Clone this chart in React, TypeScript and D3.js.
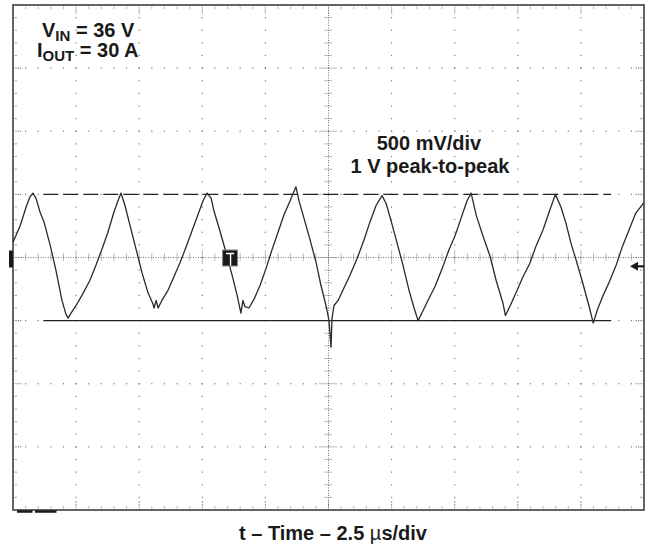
import React, { useEffect, useRef } from "react";
import * as d3 from "d3";

// screen: 10 divisions of 2.5 us, 8 divisions of 500 mV (centre = 0 V)
const timeDomain: [number, number] = [0, 25];
const voltDomain: [number, number] = [-2, 2];
const minorTime = d3.range(0, 25.001, 0.5);
const minorVolt = d3.range(-2, 2.001, 0.1);
const majorTime = d3.range(0, 25.001, 2.5);
const majorVolt = d3.range(-2, 2.001, 0.5);

// cursor levels (1 V peak-to-peak) and where they start/end in time
const cursorHigh = 0.5;
const cursorLow = -0.5;
const cursorSpan: [number, number] = [1.2, 23.7];

// markers
const channelGround = 0;
const triggerTime = 8.6;
const triggerLevel = -0.07;

// trace: [time us, volts]
const trace: [number, number][] = [
  [0, 0.12], [0.28, 0.25], [0.52, 0.4], [0.67, 0.48], [0.79, 0.51],
  [0.91, 0.47], [1.07, 0.36], [1.23, 0.28], [1.47, 0.1], [1.7, -0.1], [1.94, -0.34], [2.1, -0.45], [2.18, -0.48],
  [2.3, -0.44], [2.5, -0.38], [2.73, -0.3], [3.05, -0.18], [3.29, -0.06], [3.53, 0.07], [3.76, 0.2], [4.0, 0.36], [4.16, 0.45], [4.28, 0.51],
  [4.44, 0.41], [4.64, 0.25], [4.87, 0.07], [5.11, -0.12], [5.35, -0.28], [5.55, -0.37], [5.59, -0.4], [5.67, -0.34], [5.75, -0.4],
  [5.9, -0.34], [6.14, -0.26], [6.38, -0.15], [6.62, -0.04], [6.85, 0.08], [7.09, 0.21], [7.33, 0.34], [7.53, 0.45], [7.69, 0.51],
  [7.85, 0.47], [7.96, 0.37], [8.2, 0.21], [8.44, 0.04], [8.68, -0.14], [8.88, -0.3], [9.03, -0.44], [9.11, -0.34], [9.19, -0.39], [9.35, -0.4],
  [9.55, -0.33], [9.79, -0.22], [10.02, -0.09], [10.26, 0.06], [10.5, 0.2], [10.74, 0.34], [10.98, 0.45], [11.21, 0.56],
  [11.33, 0.45], [11.53, 0.31], [11.77, 0.14], [12.01, -0.04], [12.2, -0.22], [12.4, -0.38], [12.52, -0.5], [12.6, -0.71], [12.64, -0.48],
  [12.72, -0.38], [12.88, -0.34], [13.07, -0.26], [13.35, -0.14], [13.63, -0.01], [13.91, 0.14], [14.14, 0.28], [14.38, 0.41], [14.62, 0.49],
  [14.78, 0.43], [14.98, 0.29], [15.21, 0.12], [15.45, -0.06], [15.69, -0.26], [15.89, -0.4], [16.05, -0.5],
  [16.2, -0.44], [16.44, -0.34], [16.72, -0.23], [17.0, -0.09], [17.27, 0.06], [17.51, 0.17], [17.75, 0.31], [17.99, 0.45], [18.15, 0.51],
  [18.23, 0.44], [18.36, 0.33], [18.62, 0.17], [18.9, 0.01], [19.14, -0.18], [19.41, -0.36], [19.51, -0.46],
  [19.68, -0.39], [19.93, -0.28], [20.21, -0.15], [20.47, -0.05], [20.72, 0.09], [21.0, 0.22], [21.26, 0.37], [21.49, 0.5],
  [21.71, 0.4], [21.91, 0.27], [22.11, 0.11], [22.31, -0.02], [22.57, -0.2], [22.83, -0.39], [22.99, -0.52],
  [23.16, -0.41], [23.36, -0.31], [23.61, -0.2], [23.88, -0.07], [24.15, 0.09], [24.41, 0.22], [24.67, 0.35], [24.98, 0.43],
];

const WIDTH = 649;
const HEIGHT = 548;
const FONT = "'Liberation Sans', Arial, Helvetica, sans-serif";
const GRID = "#777";
const INK = "#1a1a1a";

const App: React.FC = () => {
  const svgRef = useRef<SVGSVGElement | null>(null);

  useEffect(() => {
    if (!svgRef.current) return;
    const svg = d3.select(svgRef.current);
    svg.selectAll("*").remove();

    const x = d3.scaleLinear().domain(timeDomain).range([13, 644]);
    const y = d3.scaleLinear().domain(voltDomain).range([510, 5]);
    const [x0, x1] = x.range();
    const [y1, y0] = y.range();
    const xc = x(12.5);
    const yc = y(0);

    const isMajorT = (t: number) => majorTime.some((m) => Math.abs(m - t) < 1e-6);
    const isMajorV = (v: number) => majorVolt.some((m) => Math.abs(m - v) < 1e-6);

    const g = svg.append("g");

    // dotted major grid
    const innerT = majorTime.slice(1, -1).filter((t) => t !== 12.5);
    const innerV = majorVolt.slice(1, -1).filter((v) => Math.abs(v) > 1e-6);
    innerT.forEach((t) => {
      g.selectAll(null)
        .data(minorVolt.slice(1, -1))
        .enter()
        .append("rect")
        .attr("x", x(t) - 0.6)
        .attr("y", (v) => y(v) - 0.6)
        .attr("width", 1.2)
        .attr("height", 1.2)
        .attr("fill", GRID);
    });
    innerV.forEach((v) => {
      g.selectAll(null)
        .data(minorTime.slice(1, -1))
        .enter()
        .append("rect")
        .attr("x", (t) => x(t) - 0.6)
        .attr("y", y(v) - 0.6)
        .attr("width", 1.2)
        .attr("height", 1.2)
        .attr("fill", GRID);
    });

    // centre axes
    g.append("line")
      .attr("x1", x0).attr("x2", x1).attr("y1", yc).attr("y2", yc)
      .attr("stroke", GRID).attr("stroke-width", 1).attr("stroke-dasharray", "1,1.5");
    g.append("line")
      .attr("x1", xc).attr("x2", xc).attr("y1", y0).attr("y2", y1)
      .attr("stroke", GRID).attr("stroke-width", 1).attr("stroke-dasharray", "1,1.5");

    g.selectAll(null)
      .data(minorTime.slice(1, -1))
      .enter()
      .append("line")
      .attr("x1", (t) => x(t)).attr("x2", (t) => x(t))
      .attr("y1", (t) => yc - (isMajorT(t) ? 7 : 4))
      .attr("y2", (t) => yc + (isMajorT(t) ? 7 : 4))
      .attr("stroke", GRID).attr("stroke-width", 1).attr("stroke-dasharray", "1,1");
    g.selectAll(null)
      .data(minorVolt.slice(1, -1))
      .enter()
      .append("line")
      .attr("y1", (v) => y(v)).attr("y2", (v) => y(v))
      .attr("x1", (v) => xc - (isMajorV(v) ? 9 : 4))
      .attr("x2", (v) => xc + (isMajorV(v) ? 9 : 4))
      .attr("stroke", GRID).attr("stroke-width", 1).attr("stroke-dasharray", "1,1");

    // border ticks
    [y0, y1].forEach((yy, k) => {
      const dir = k === 0 ? 1 : -1;
      g.selectAll(null)
        .data(minorTime.slice(1, -1))
        .enter()
        .append("line")
        .attr("x1", (t) => x(t)).attr("x2", (t) => x(t))
        .attr("y1", yy)
        .attr("y2", (t) => yy + dir * (isMajorT(t) ? 9 : 4))
        .attr("stroke", GRID).attr("stroke-width", 1.1).attr("stroke-dasharray", "1.2,1.2");
    });
    [x0, x1].forEach((xx, k) => {
      const dir = k === 0 ? 1 : -1;
      g.selectAll(null)
        .data(minorVolt.slice(1, -1))
        .enter()
        .append("line")
        .attr("y1", (v) => y(v)).attr("y2", (v) => y(v))
        .attr("x1", xx)
        .attr("x2", (v) => xx + dir * (isMajorV(v) ? 9 : 4))
        .attr("stroke", GRID).attr("stroke-width", 1.1).attr("stroke-dasharray", "1.2,1.2");
    });

    // frame
    g.append("rect")
      .attr("x", x0).attr("y", y0)
      .attr("width", x1 - x0).attr("height", y1 - y0)
      .attr("fill", "none").attr("stroke", "#555").attr("stroke-width", 1.8);

    // cursors
    g.append("line")
      .attr("x1", x(cursorSpan[0])).attr("x2", x(cursorSpan[1]))
      .attr("y1", y(cursorHigh)).attr("y2", y(cursorHigh))
      .attr("stroke", "#222").attr("stroke-width", 1.4).attr("stroke-dasharray", "15,5");
    g.append("line")
      .attr("x1", x(cursorSpan[0])).attr("x2", x(cursorSpan[1]))
      .attr("y1", y(cursorLow)).attr("y2", y(cursorLow))
      .attr("stroke", "#222").attr("stroke-width", 1.4);

    // trace
    const line = d3
      .line<[number, number]>()
      .x((d) => x(d[0]))
      .y((d) => y(d[1]));
    g.append("path")
      .datum(trace)
      .attr("d", line)
      .attr("fill", "none")
      .attr("stroke", "#2a2a2a")
      .attr("stroke-width", 1.3)
      .attr("stroke-linejoin", "round");

    // channel ground marker
    g.append("rect")
      .attr("x", x0 - 4).attr("y", y(channelGround) - 7)
      .attr("width", 4).attr("height", 17)
      .attr("fill", INK);

    // trigger position marker
    const tx = x(triggerTime);
    g.append("rect")
      .attr("x", tx - 7.5).attr("y", yc - 7.5)
      .attr("width", 15).attr("height", 16)
      .attr("fill", INK).attr("stroke", "#888").attr("stroke-width", 1);
    g.append("path")
      .attr("d", `M${tx - 4},${yc - 4}H${tx + 4}M${tx + 0.5},${yc - 4}V${yc + 8}`)
      .attr("stroke", "#fff").attr("stroke-width", 1.4).attr("fill", "none");

    // trigger level arrow
    const ty = y(triggerLevel);
    g.append("path")
      .attr("d", `M${x1 - 14},${ty}L${x1 - 6},${ty - 4.5}L${x1 - 6},${ty + 4.5}Z`)
      .attr("fill", INK);
    g.append("line")
      .attr("x1", x1 - 7).attr("x2", x1).attr("y1", ty).attr("y2", ty)
      .attr("stroke", INK).attr("stroke-width", 2.2);

    // record-length bars under the frame
    g.append("path")
      .attr("d", `M17,${y1 + 1.5}H32.5M35,${y1 + 1.5}H56.5`)
      .attr("stroke", INK).attr("stroke-width", 2.5);

    // annotations
    const t1 = g.append("text")
      .attr("x", 42).attr("y", 37)
      .attr("font-family", FONT).attr("font-size", 20).attr("font-weight", "bold").attr("fill", INK);
    t1.append("tspan").text("V");
    t1.append("tspan").attr("font-size", 15).attr("dy", 4).text("IN");
    t1.append("tspan").attr("dy", -4).text(" = 36 V");

    const t2 = g.append("text")
      .attr("x", 37).attr("y", 57)
      .attr("font-family", FONT).attr("font-size", 20).attr("font-weight", "bold").attr("fill", INK);
    t2.append("tspan").text("I");
    t2.append("tspan").attr("font-size", 15).attr("dy", 4).text("OUT");
    t2.append("tspan").attr("dy", -4).text(" = 30 A");

    g.append("text")
      .attr("x", 429).attr("y", 149.5).attr("text-anchor", "middle")
      .attr("font-family", FONT).attr("font-size", 20).attr("font-weight", "bold").attr("fill", INK)
      .text("500 mV/div");
    g.append("text")
      .attr("x", 430).attr("y", 173).attr("text-anchor", "middle")
      .attr("font-family", FONT).attr("font-size", 20).attr("font-weight", "bold").attr("fill", INK)
      .text("1 V peak-to-peak");

    const xl = g.append("text")
      .attr("x", 333).attr("y", 540).attr("text-anchor", "middle")
      .attr("font-family", FONT).attr("font-size", 20).attr("font-weight", "bold").attr("fill", INK);
    xl.append("tspan").text("t \u2013 Time \u2013 2.5 ");
    xl.append("tspan").attr("font-weight", "normal").text("\u00b5");
    xl.append("tspan").text("s/div");
  }, []);

  return (
    <svg
      ref={svgRef}
      width={WIDTH}
      height={HEIGHT}
      style={{ position: "absolute", left: 0, top: 0, background: "#fff" }}
    />
  );
};

export default App;
